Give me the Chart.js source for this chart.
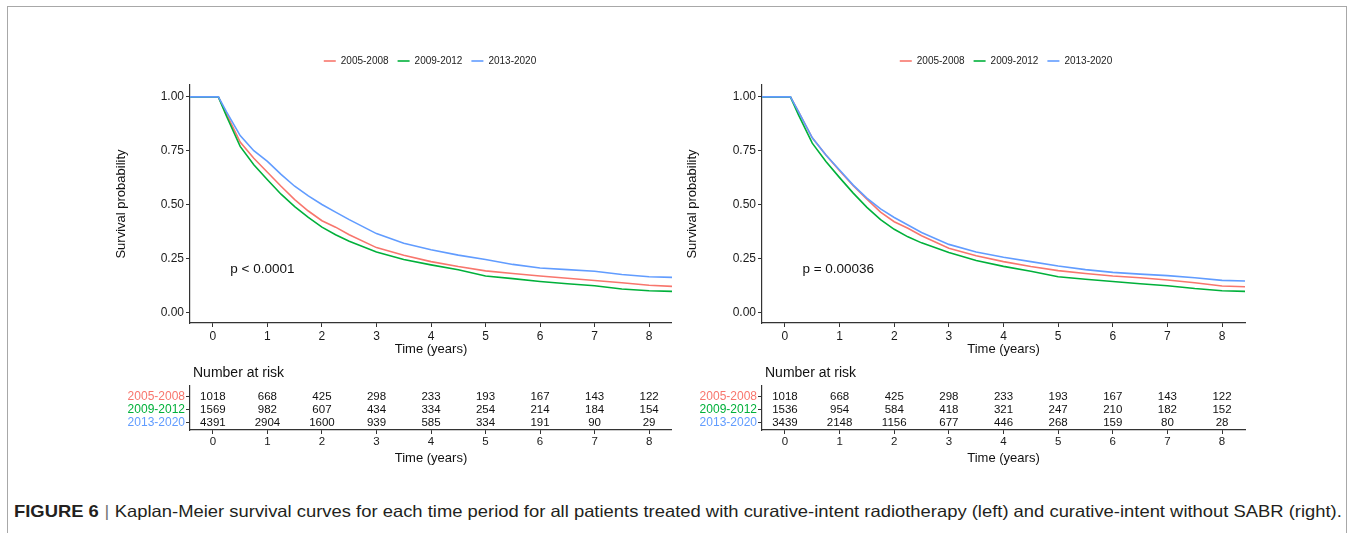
<!DOCTYPE html>
<html>
<head>
<meta charset="utf-8">
<script src="https://cdn.jsdelivr.net/npm/chart.js@4.4.0/dist/chart.umd.min.js"></script>
<style>
  html, body { margin: 0; padding: 0; background: #fff; }
  body { width: 1356px; height: 533px; position: relative; overflow: hidden; font-family: "Liberation Sans", Arial, sans-serif; }
  .frame { position: absolute; left: 7px; top: 6px; width: 1340px; height: 600px; border: 1.5px solid #a8a8a8; border-bottom: none; box-sizing: border-box; }
  .box { position: absolute; }
  .caption { position: absolute; left: 14px; top: 502px; font-size: 16.5px; color: #231f20; white-space: nowrap; font-family: "Liberation Sans", Arial, sans-serif; transform: scaleX(1.115); transform-origin: 0 0; }
  .caption b { font-weight: bold; }
  .caption .sep { color: #777; margin: 0 5px; font-weight: 300; }
</style>
</head>
<body>
<div class="frame"></div>
<div class="box" style="left:100px;top:40px;width:572px;height:330px;"><canvas id="kmLeft"></canvas></div>
<div class="box" style="left:672px;top:40px;width:580px;height:330px;"><canvas id="kmRight"></canvas></div>
<div class="box" style="left:100px;top:360px;width:572px;height:110px;"><canvas id="riskLeft"></canvas></div>
<div class="box" style="left:672px;top:360px;width:580px;height:110px;"><canvas id="riskRight"></canvas></div>
<div class="caption"><b>FIGURE 6</b><span class="sep">|</span>Kaplan-Meier survival curves for each time period for all patients treated with curative-intent radiotherapy (left) and curative-intent without SABR (right).</div>
<script>
// ---------- data ----------
const groupLabels = ['2005-2008', '2009-2012', '2013-2020'];
const groupColors = ['#F8766D', '#00B03A', '#619CFF'];

const timePoints = [-0.42, 0, 0.1, 0.25, 0.5, 0.75, 1, 1.25, 1.5, 1.75, 2, 2.25, 2.5, 3, 3.5, 4, 4.5, 5, 5.5, 6, 6.5, 7, 7.5, 8, 8.42];

// Left panel: all curative-intent radiotherapy
const leftSurv2005 = [1, 1, 1, 0.92, 0.79, 0.715, 0.65, 0.585, 0.523, 0.47, 0.425, 0.395, 0.36, 0.30, 0.265, 0.235, 0.212, 0.192, 0.18, 0.168, 0.158, 0.147, 0.137, 0.125, 0.12];
const leftSurv2009 = [1, 1, 1, 0.91, 0.77, 0.685, 0.615, 0.548, 0.49, 0.44, 0.395, 0.36, 0.33, 0.28, 0.245, 0.22, 0.197, 0.168, 0.156, 0.143, 0.132, 0.123, 0.108, 0.10, 0.097];
const leftSurv2013 = [1, 1, 1, 0.93, 0.82, 0.75, 0.70, 0.64, 0.585, 0.54, 0.50, 0.465, 0.43, 0.365, 0.32, 0.29, 0.265, 0.245, 0.222, 0.205, 0.198, 0.19, 0.175, 0.165, 0.162];

// Right panel: curative-intent without SABR
const rightSurv2005 = [1, 1, 1, 0.93, 0.81, 0.73, 0.657, 0.587, 0.525, 0.465, 0.42, 0.39, 0.355, 0.297, 0.262, 0.235, 0.212, 0.193, 0.18, 0.168, 0.16, 0.15, 0.137, 0.122, 0.118];
const rightSurv2009 = [1, 1, 1, 0.915, 0.785, 0.70, 0.625, 0.553, 0.487, 0.43, 0.385, 0.35, 0.322, 0.277, 0.24, 0.213, 0.19, 0.165, 0.153, 0.143, 0.132, 0.123, 0.11, 0.10, 0.097];
const rightSurv2013 = [1, 1, 1, 0.93, 0.81, 0.73, 0.66, 0.59, 0.53, 0.48, 0.44, 0.405, 0.37, 0.315, 0.28, 0.255, 0.235, 0.215, 0.198, 0.185, 0.177, 0.17, 0.16, 0.148, 0.145];

// Number at risk tables
const riskTimes = [0, 1, 2, 3, 4, 5, 6, 7, 8];
const leftRisk2005 = [1018, 668, 425, 298, 233, 193, 167, 143, 122];
const leftRisk2009 = [1569, 982, 607, 434, 334, 254, 214, 184, 154];
const leftRisk2013 = [4391, 2904, 1600, 939, 585, 334, 191, 90, 29];
const rightRisk2005 = [1018, 668, 425, 298, 233, 193, 167, 143, 122];
const rightRisk2009 = [1536, 954, 584, 418, 321, 247, 210, 182, 152];
const rightRisk2013 = [3439, 2148, 1156, 677, 446, 268, 159, 80, 28];

const xTicks = [0, 1, 2, 3, 4, 5, 6, 7, 8];
const yTicks = [0, 0.25, 0.5, 0.75, 1];
const pLeft = 'p < 0.0001';
const pRight = 'p = 0.00036';

// ---------- helpers ----------
const FONT = '"Liberation Sans", Arial, sans-serif';
const AX = '#333333';
const TXT = '#1a1a1a';

const kmExtras = {
  id: 'kmExtras',
  afterDraw(chart, args, opts) {
    const ctx = chart.ctx;
    const xs = chart.scales.x, ys = chart.scales.y;
    ctx.save();
    ctx.font = '13.5px ' + FONT;
    ctx.fillStyle = '#111';
    ctx.textAlign = 'left';
    ctx.textBaseline = 'middle';
    ctx.fillText(opts.pText, xs.getPixelForValue(opts.pX), ys.getPixelForValue(opts.pY));
    ctx.font = '10px ' + FONT;
    const lineLen = 12, gap = 5, itemGap = 9;
    const items = chart.data.datasets.map(d => ({label: d.label, color: d.borderColor, w: ctx.measureText(d.label).width}));
    let total = items.reduce((s, it) => s + lineLen + gap + it.w, 0) + itemGap * (items.length - 1);
    let x = opts.legendCenter - total / 2;
    const y = opts.legendY;
    items.forEach(it => {
      ctx.strokeStyle = it.color;
      ctx.lineWidth = 1.6;
      ctx.beginPath(); ctx.moveTo(x, y); ctx.lineTo(x + lineLen, y); ctx.stroke();
      x += lineLen + gap;
      ctx.fillStyle = '#222';
      ctx.fillText(it.label, x, y);
      x += it.w + itemGap;
    });
    ctx.restore();
  }
};

function kmChart(id, series, pText, titlePad, legendCenter) {
  const datasets = series.map((vals, i) => ({
    label: groupLabels[i],
    data: timePoints.map((t, k) => ({x: t, y: vals[k]})),
    borderColor: groupColors[i],
    borderWidth: 1.6,
    pointRadius: 0,
    tension: 0,
    fill: false,
    order: 3 - i
  }));
  return new Chart(document.getElementById(id), {
    type: 'line',
    data: {datasets},
    plugins: [kmExtras],
    options: {
      responsive: true, maintainAspectRatio: false, animation: false,
      devicePixelRatio: 1,
      layout: {padding: {left: 0, top: 45, right: id === 'kmLeft' ? 0 : 7, bottom: 0}},
      plugins: {
        legend: {display: false}, tooltip: {enabled: false},
        kmExtras: {pText, pX: 0.32, pY: 0.2, legendCenter, legendY: 21}
      },
      scales: {
        x: {
          type: 'linear', min: -0.42, max: 8.42,
          afterBuildTicks: s => { s.ticks = xTicks.map(v => ({value: v})); },
          afterFit: s => { s.height = 47; },
          grid: {display: true, drawOnChartArea: false, drawTicks: true, tickLength: 4, color: AX, lineWidth: 1},
          border: {display: true, color: AX, width: 1.2},
          ticks: {color: TXT, font: {size: 12, family: FONT}, padding: 2, maxRotation: 0, autoSkip: false},
          title: {display: true, text: 'Time (years)', color: '#111', font: {size: 13, family: FONT}, padding: {top: 0, bottom: 13}}
        },
        y: {
          type: 'linear', min: -0.05, max: 1.055,
          afterBuildTicks: s => { s.ticks = yTicks.map(v => ({value: v})); },
          afterFit: s => { s.width = 90; },
          grid: {display: true, drawOnChartArea: false, drawTicks: true, tickLength: 4, color: AX, lineWidth: 1},
          border: {display: true, color: AX, width: 1.2},
          ticks: {color: TXT, font: {size: 12, family: FONT}, padding: 2, callback: v => Number(v).toFixed(2)},
          title: {display: true, text: 'Survival probability', color: '#111', font: {size: 13, family: FONT}, padding: {top: titlePad, bottom: 0}}
        }
      }
    }
  });
}

const riskExtras = {
  id: 'riskExtras',
  afterDraw(chart, args, opts) {
    const ctx = chart.ctx;
    const xs = chart.scales.x, ys = chart.scales.y;
    ctx.save();
    ctx.font = '11.5px ' + FONT;
    ctx.fillStyle = '#111';
    ctx.textAlign = 'center';
    ctx.textBaseline = 'middle';
    opts.rows.forEach((row, r) => {
      row.forEach((n, k) => {
        ctx.fillText(String(n), xs.getPixelForValue(riskTimes[k]), ys.getPixelForValue(r + 1));
      });
    });
    ctx.font = '14px ' + FONT;
    ctx.textAlign = 'left';
    ctx.fillText('Number at risk', chart.chartArea.left + 3, chart.chartArea.top - 13);
    ctx.restore();
  }
};

function riskChart(id, rows) {
  return new Chart(document.getElementById(id), {
    type: 'scatter',
    data: {datasets: [{data: [], pointRadius: 0}]},
    plugins: [riskExtras],
    options: {
      responsive: true, maintainAspectRatio: false, animation: false,
      devicePixelRatio: 1,
      layout: {padding: {left: 0, top: 26, right: id === 'riskLeft' ? 0 : 7, bottom: 0}},
      plugins: {legend: {display: false}, tooltip: {enabled: false}, riskExtras: {rows}},
      scales: {
        x: {
          type: 'linear', min: -0.42, max: 8.42,
          afterBuildTicks: s => { s.ticks = xTicks.map(v => ({value: v})); },
          afterFit: s => { s.height = 40; },
          grid: {display: true, drawOnChartArea: false, drawTicks: true, tickLength: 4, color: AX, lineWidth: 1},
          border: {display: true, color: AX, width: 1.2},
          ticks: {color: TXT, font: {size: 11.5, family: FONT}, padding: 1, maxRotation: 0, autoSkip: false},
          title: {display: true, text: 'Time (years)', color: '#111', font: {size: 13, family: FONT}, padding: {top: 0, bottom: 4}}
        },
        y: {
          type: 'linear', reverse: true, min: 0.15, max: 3.58,
          afterBuildTicks: s => { s.ticks = [1, 2, 3].map(v => ({value: v})); },
          afterFit: s => { s.width = 90; },
          grid: {display: true, drawOnChartArea: false, drawTicks: true, tickLength: 4, color: AX, lineWidth: 1},
          border: {display: true, color: AX, width: 1.2},
          ticks: {
            font: {size: 12, family: FONT}, padding: 1,
            color: ctx => groupColors[(ctx.tick ? ctx.tick.value : ctx.index + 1) - 1] || '#000',
            callback: v => groupLabels[v - 1]
          }
        }
      }
    }
  });
}

kmChart('kmLeft', [leftSurv2005, leftSurv2009, leftSurv2013], pLeft, 14, 330);
kmChart('kmRight', [rightSurv2005, rightSurv2009, rightSurv2013], pRight, 13, 334);
riskChart('riskLeft', [leftRisk2005, leftRisk2009, leftRisk2013]);
riskChart('riskRight', [rightRisk2005, rightRisk2009, rightRisk2013]);
</script>
</body>
</html>
